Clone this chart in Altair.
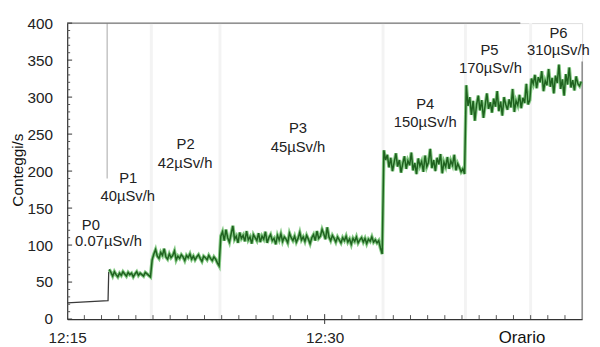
import altair as alt
import pandas as pd
import numpy as np

# ---------------- data (minutes after 12:15, counts/s) ----------------
p0_time = [0.0, 2.38, 2.42]
p0_vals = [22, 25, 64]

p1_vals = [67, 63, 58, 64, 60, 57, 62, 59, 64, 61, 58, 63, 60, 62, 57, 61, 64, 59,
           62, 60, 58, 63, 61, 59, 57]
p2_vals = [80, 88, 94, 85, 82, 90, 86, 95, 84, 81, 88, 83, 86, 92, 80, 85, 82, 87,
           84, 79, 86, 83, 88, 81, 85, 80, 84, 87, 82, 78, 85, 83, 80, 86, 82, 79,
           84, 81, 76, 72]
p3_vals = [112, 118, 106, 121, 110, 104, 115, 126, 108, 112, 103, 117, 109, 113, 105,
           119, 107, 111, 102, 114, 110, 106, 116, 104, 112, 108, 118, 103, 110, 114,
           106, 109, 101, 113, 107, 115, 105, 111, 108, 103, 116, 110, 106, 112, 104,
           109, 117, 107, 111, 105, 113, 108, 102, 110, 114, 106, 119, 109, 112, 121,
           115, 108, 124, 111, 106, 113, 109, 104, 111, 107, 103, 110, 106, 112, 104,
           108, 101, 109, 105, 111, 103, 107, 110, 104, 109, 102, 108, 105, 111, 104,
           107, 103, 106, 96, 88]
p4_vals = [228, 215, 222, 205, 218, 200, 212, 224, 206, 215, 198, 210, 220, 203, 214,
           208, 225, 201, 211, 196, 217, 207, 213, 199, 221, 206, 212, 230, 204, 215,
           200, 218, 209, 223, 197, 212, 206, 219, 203, 214, 208, 222, 201, 210, 205,
           199, 203, 196]
p5_vals = [316, 288, 300, 276, 295, 268, 290, 302, 282, 296, 272, 289, 305, 284, 293,
           279, 298, 287, 308, 281, 294, 275, 300, 290, 283, 297, 286, 311, 280, 295,
           289, 303, 285, 299, 292, 318, 290, 296]
p6_vals = [325, 318, 330, 312, 327, 320, 335, 308, 322, 316, 338, 314, 326, 305, 329,
           319, 344, 311, 324, 302, 331, 317, 340, 313, 323, 309, 328, 318, 315, 321]

segment_starts = [2.45, 4.95, 8.95, 18.45, 23.25, 27.05]
segment_ends = [4.85, 8.85, 18.35, 23.15, 26.95, 29.95]
segment_vals = [p1_vals, p2_vals, p3_vals, p4_vals, p5_vals, p6_vals]

transition_times = [4.9, 8.9, 18.4, 23.2, 27.0]
marker_time = 2.33

label_names = ["P0", "0.07µSv/h", "P1", "40µSv/h", "P2", "42µSv/h", "P3", "45µSv/h",
               "P4", "150µSv/h", "P5", "170µSv/h", "P6", "310µSv/h"]
label_time = [1.38, 2.41, 3.56, 3.53, 6.90, 6.87, 13.45, 13.45, 20.86, 20.86, 24.6, 24.66, 28.62, 28.62]
label_vals = [127, 105, 190, 166, 237, 211, 258, 233, 291, 266, 363, 339, 386, 363]

y_ticks_major = list(range(0, 401, 50))
y_ticks_minor = [v for v in range(0, 401, 10) if v % 50 != 0]
x_ticks_minor = [m for m in range(1, 30) if m != 15]
x_ticks_major = [15]

# ---------------- build tables ----------------
rows = []
for s, e, vals in zip(segment_starts, segment_ends, segment_vals):
    for t, v in zip(np.linspace(s, e, len(vals)), vals):
        rows.append({"t": float(t), "v": v})
green = pd.DataFrame(rows)
gray = pd.DataFrame({"t": p0_time, "v": p0_vals})
labels = pd.DataFrame({"txt": label_names, "t": label_time, "v": label_vals})

FONT = "Liberation Sans"
xs = alt.Scale(domain=[0, 30], nice=False, zero=False)
ys = alt.Scale(domain=[0, 400], nice=False)

x_axis = alt.Axis(
    values=[0, 15], labelExpr="datum.value == 0 ? '12:15' : '12:30'",
    ticks=False, grid=False, title=None, labelPadding=12, labelFontSize=15.5,
    labelFont=FONT, labelColor="#222", domainColor="#333", domainWidth=1.2,
    labelFlush=False)
y_axis = alt.Axis(
    values=y_ticks_major, ticks=False, grid=False, title=None, labelPadding=15,
    labelFontSize=15.5, labelFont=FONT, labelColor="#222", domainColor="#333",
    domainWidth=1.2)


def X(f):
    return alt.X(f, scale=xs, axis=x_axis)


def Y(f):
    return alt.Y(f, scale=ys, axis=y_axis)


bands = alt.Chart(pd.DataFrame({"t": transition_times})).mark_rule(
    color="#f3f3f3", strokeWidth=3).encode(
    x=X("t:Q"), y=alt.value(0), y2=alt.value(300))

marker = alt.Chart(pd.DataFrame({"t": [marker_time], "a": [400], "b": [190]})).mark_rule(
    color="#c4c4c4", strokeWidth=1.5).encode(
    x=X("t:Q"), y=Y("a:Q"), y2="b:Q")

top_line = alt.Chart(pd.DataFrame({"a": [0], "b": [26.4], "v": [400]})).mark_rule(
    color="#777", strokeWidth=1.3).encode(
    x=X("a:Q"), x2="b:Q", y=Y("v:Q"))

right_line = alt.Chart(pd.DataFrame({"t": [30], "a": [0], "b": [348]})).mark_rule(
    color="#777", strokeWidth=1.3).encode(
    x=X("t:Q"), y=Y("a:Q"), y2="b:Q")

ytm = alt.Chart(pd.DataFrame({"v": y_ticks_major})).mark_rule(color="#333").encode(
    y=Y("v:Q"), x=alt.value(0), x2=alt.value(5))
ytn = alt.Chart(pd.DataFrame({"v": y_ticks_minor})).mark_rule(color="#555").encode(
    y=Y("v:Q"), x=alt.value(0), x2=alt.value(3))
xtn = alt.Chart(pd.DataFrame({"t": x_ticks_minor})).mark_rule(color="#555").encode(
    x=X("t:Q"), y=alt.value(296), y2=alt.value(300))
xtm = alt.Chart(pd.DataFrame({"t": x_ticks_major})).mark_rule(color="#333").encode(
    x=X("t:Q"), y=alt.value(295), y2=alt.value(305))

gray_line = alt.Chart(gray).mark_line(color="#3a3a3a", strokeWidth=1.3).encode(
    x=X("t:Q"), y=Y("v:Q"))

green_under = alt.Chart(green).mark_line(color="#5cb85c", strokeWidth=3.5, opacity=0.75).encode(
    x=X("t:Q"), y=Y("v:Q"))
green_line = alt.Chart(green).mark_line(color="#1f621f", strokeWidth=1.5).encode(
    x=X("t:Q"), y=Y("v:Q"))

ann = alt.Chart(labels).mark_text(font=FONT, fontSize=15, color="#222",
                                  align="center", baseline="middle").encode(
    x=X("t:Q"), y=Y("v:Q"), text="txt:N")

orario = alt.Chart(pd.DataFrame({"s": ["Orario"]})).mark_text(
    font=FONT, fontSize=17, color="#111", align="center", baseline="middle").encode(
    text="s:N", x=alt.value(461), y=alt.value(319))

ytitle = alt.Chart(pd.DataFrame({"s": ["Conteggi/s"]})).mark_text(
    font=FONT, fontSize=15.5, color="#111", align="center", baseline="middle", angle=270).encode(
    text="s:N", x=alt.value(-50), y=alt.value(149))

chart = alt.layer(
    bands, marker, top_line, right_line, ytm, ytn, xtn, xtm,
    gray_line, green_under, green_line, ann, orario, ytitle
).properties(
    width=522, height=300,
    autosize=alt.AutoSizeParams(type="none"),
    padding={"left": 60, "top": 13, "right": 10, "bottom": 26},
).configure_view(stroke=None).configure(background="white")

chart.save("out.html", embed_options={"renderer": "svg", "actions": False})
